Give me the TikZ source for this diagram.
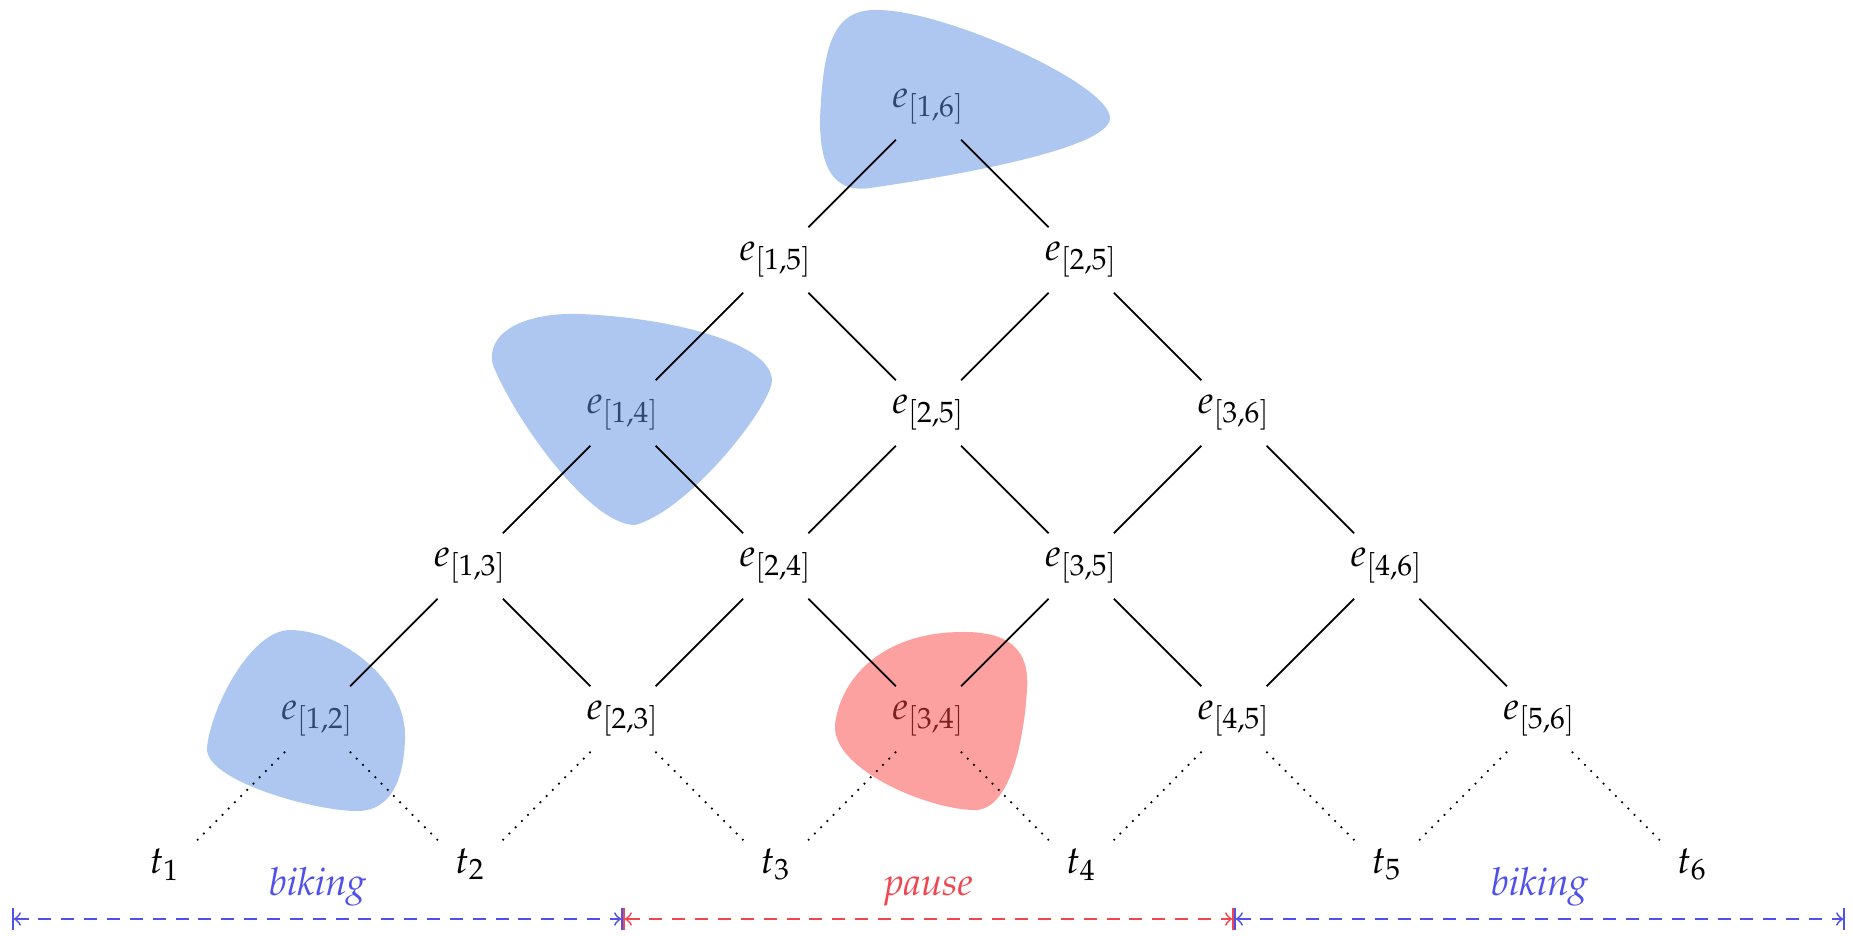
\documentclass[tikz,border=0pt]{standalone}
\usepackage[T1]{fontenc}
\usepackage{mathpazo}
\definecolor{blobblue}{RGB}{92,144,226}
\definecolor{blobred}{RGB}{251,65,65}
\definecolor{lblblue}{RGB}{80,80,235}
\definecolor{lblred}{RGB}{240,70,80}
\begin{document}
\begin{tikzpicture}[x=0.01cm,y=-0.01cm,
  font=\fontsize{11}{13}\selectfont,
  lat/.style={inner xsep=2pt, inner ysep=0pt, text height=0.32cm, text depth=0.32cm, minimum width=0.68cm, anchor=base},
  edgeline/.style={line width=0.5pt, black},
  leafline/.style={line width=0.5pt, dotted},
  blobA/.style={fill=blobblue, fill opacity=0.5, draw=none},
  blobB/.style={fill=blobred, fill opacity=0.5, draw=none},
  spanarrow/.style={|<->|, dash pattern=on 3.7pt off 2.8pt, line width=0.5pt},
  tag/.style={anchor=base, font=\fontsize{11}{13}\selectfont\itshape}]
\useasboundingbox (0,0) rectangle (1853,935);
% row 1
\node[lat] (e16) at (928.5,107) {$e_{[1,6]}$};
% row 2
\node[lat] (e15) at (775.75,260) {$e_{[1,5]}$};
\node[lat] (e25a) at (1081.25,260) {$e_{[2,5]}$};
% row 3
\node[lat] (e14) at (623,413) {$e_{[1,4]}$};
\node[lat] (e25b) at (928.5,413) {$e_{[2,5]}$};
\node[lat] (e36) at (1234,413) {$e_{[3,6]}$};
% row 4
\node[lat] (e13) at (470.25,566) {$e_{[1,3]}$};
\node[lat] (e24) at (775.75,566) {$e_{[2,4]}$};
\node[lat] (e35) at (1081.25,566) {$e_{[3,5]}$};
\node[lat] (e46) at (1386.75,566) {$e_{[4,6]}$};
% row 5
\node[lat] (e12) at (317.5,719) {$e_{[1,2]}$};
\node[lat] (e23) at (623,719) {$e_{[2,3]}$};
\node[lat] (e34) at (928.5,719) {$e_{[3,4]}$};
\node[lat] (e45) at (1234,719) {$e_{[4,5]}$};
\node[lat] (e56) at (1539.5,719) {$e_{[5,6]}$};
% leaves
\node[lat] (t1) at (164.75,873) {$t_1$};
\node[lat] (t2) at (470.25,873) {$t_2$};
\node[lat] (t3) at (775.75,873) {$t_3$};
\node[lat] (t4) at (1081.25,873) {$t_4$};
\node[lat] (t5) at (1386.75,873) {$t_5$};
\node[lat] (t6) at (1692.25,873) {$t_6$};
% blobs
\fill[blobA] (820,120) .. controls (823,40) and (835,8) .. (880,10)
  .. controls (950,12) and (1110,85) .. (1110,118)
  .. controls (1110,150) and (940,178) .. (870,188)
  .. controls (835,193) and (820,170) .. (820,120) -- cycle;
\fill[blobA] (493,365) .. controls (485,335) and (520,312) .. (580,314)
  .. controls (660,317) and (770,340) .. (772,380)
  .. controls (772,405) and (690,510) .. (635,525)
  .. controls (590,525) and (515,420) .. (493,365) -- cycle;
\fill[blobA] (290,630) .. controls (340,630) and (408,680) .. (405,740)
  .. controls (403,790) and (385,812) .. (355,811)
  .. controls (310,810) and (205,780) .. (207,748)
  .. controls (210,710) and (250,630) .. (290,630) -- cycle;
\fill[blobB] (835,725) .. controls (840,680) and (880,633) .. (960,632)
  .. controls (1010,631) and (1030,650) .. (1027,690)
  .. controls (1024,740) and (1010,810) .. (975,810)
  .. controls (930,810) and (832,770) .. (835,725) -- cycle;
% edges
\draw[edgeline] (e16) -- (e15);
\draw[edgeline] (e16) -- (e25a);
\draw[edgeline] (e15) -- (e14);
\draw[edgeline] (e15) -- (e25b);
\draw[edgeline] (e25a) -- (e25b);
\draw[edgeline] (e25a) -- (e36);
\draw[edgeline] (e14) -- (e13);
\draw[edgeline] (e14) -- (e24);
\draw[edgeline] (e25b) -- (e24);
\draw[edgeline] (e25b) -- (e35);
\draw[edgeline] (e36) -- (e35);
\draw[edgeline] (e36) -- (e46);
\draw[edgeline] (e13) -- (e12);
\draw[edgeline] (e13) -- (e23);
\draw[edgeline] (e24) -- (e23);
\draw[edgeline] (e24) -- (e34);
\draw[edgeline] (e35) -- (e34);
\draw[edgeline] (e35) -- (e45);
\draw[edgeline] (e46) -- (e45);
\draw[edgeline] (e46) -- (e56);
% leaf links
\draw[leafline] (e12) -- (t1);
\draw[leafline] (e12) -- (t2);
\draw[leafline] (e23) -- (t2);
\draw[leafline] (e23) -- (t3);
\draw[leafline] (e34) -- (t3);
\draw[leafline] (e34) -- (t4);
\draw[leafline] (e45) -- (t4);
\draw[leafline] (e45) -- (t5);
\draw[leafline] (e56) -- (t5);
\draw[leafline] (e56) -- (t6);
% activity labels
\node[tag, text=lblblue] (l1) at (317.5,895) {biking};
\node[tag, text=lblred] (l2) at (928.5,895) {pause};
\node[tag, text=lblblue] (l3) at (1539.5,895) {biking};
% spans
\coordinate (a0) at (12,919);
\coordinate (a1) at (623,919);
\coordinate (a2) at (1234,919);
\coordinate (a3) at (1845,919);
\draw[spanarrow, lblblue] (a0) -- (a1);
\draw[spanarrow, lblred] (a1) -- (a2);
\draw[spanarrow, lblblue] (a2) -- (a3);
\end{tikzpicture}
\end{document}
